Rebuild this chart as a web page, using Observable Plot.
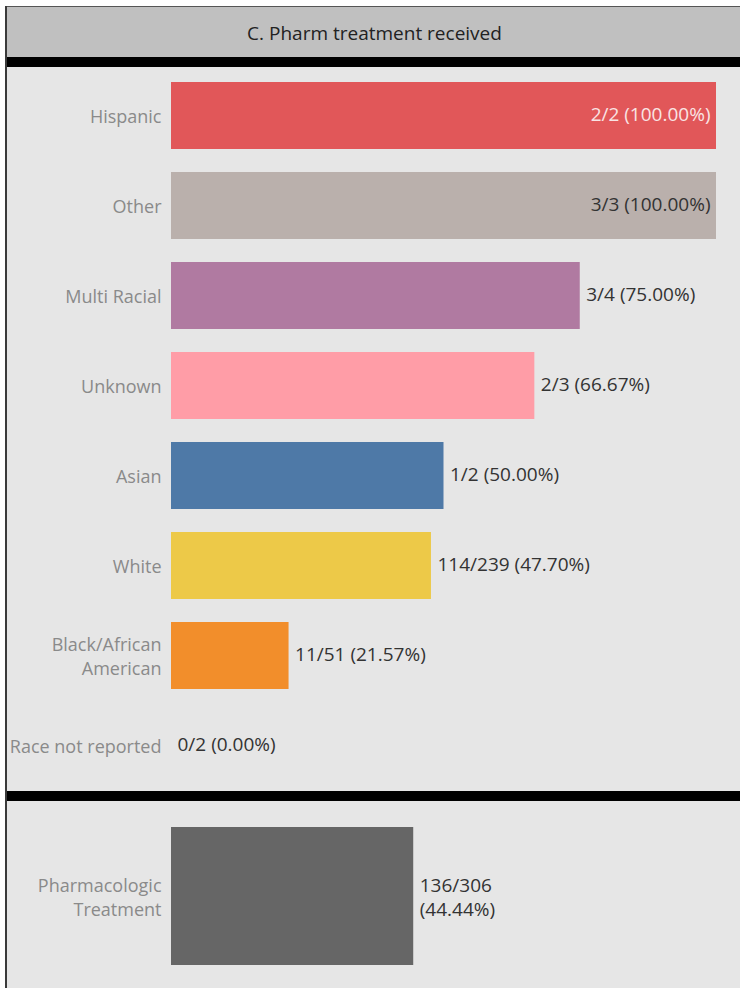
<!DOCTYPE html>
<html><head><meta charset="utf-8">
<script src="https://cdn.jsdelivr.net/npm/d3@7"></script>
<script src="https://cdn.jsdelivr.net/npm/@observablehq/plot@0.6"></script>
<style>
body{margin:0;background:#fff;font-family:"Open Sans",sans-serif;}
#wrap{position:absolute;left:5px;top:6px;width:735px;border-left:2px solid #3a3a3a;}
#hdr{height:51px;background:#c0c0c0;border-top:1px solid #555;box-sizing:border-box;display:flex;align-items:center;justify-content:center;font-size:19px;font-weight:500;color:#222;padding-top:2px;}
.sep{height:10px;background:#000;}
svg{display:block;}
</style></head>
<body>
<div id="wrap">
  <div id="hdr">C. Pharm treatment received</div>
  <div class="sep"></div>
  <div id="c1"></div>
  <div class="sep"></div>
  <div id="c2"></div>
</div>
<script>
const races = ["Hispanic","Other","Multi Racial","Unknown","Asian","White","Black/African\nAmerican","Race not reported"];
const treated = [2,3,3,2,1,114,11,0];
const totals = [2,3,4,3,2,239,51,2];
const colors = ["#e15759","#bab0ac","#b07aa1","#ff9da7","#4e79a7","#edc948","#f28e2b","#bbbbbb"];
const insideLabel = ["Hispanic","Other"];
const overallLabel = ["Pharmacologic\nTreatment"];
const overallTreated = [136];
const overallTotal = [306];

const rows = races.map((r,i)=>({race:r, n:treated[i], d:totals[i], pct:treated[i]/totals[i]*100}));
const lab = d => `${d.n}/${d.d} (${d.pct.toFixed(2)}%)`;

const W = 733;
const FS = 18;
const VS = 19;
const c1 = Plot.plot({
  width: W, height: 724,
  marginLeft: 164, marginRight: 24, marginTop: 14, marginBottom: 12,
  style: {background: "#e6e6e6", fontFamily: "Open Sans", fontSize: FS + "px", color: "#333"},
  x: {domain: [0,100], axis: null},
  y: {domain: races, paddingInner: 0.256, paddingOuter: 0, label: null},
  color: {domain: races, range: colors},
  marks: [
    Plot.ruleX([0], {stroke: "#fff", strokeWidth: 2, dx: -1, y1: -100, y2: 1000}),
    Plot.barX(rows, {x: "pct", y: "race", fill: "race"}),
    Plot.text(rows.filter(d=>insideLabel.includes(d.race)), {x: "pct", y: "race", text: lab, textAnchor: "end", dx: -6, dy: -1, fontSize: VS,
      fill: d => d.race === "Hispanic" ? "#f9e4e4" : "#333"}),
    Plot.text(rows.filter(d=>!insideLabel.includes(d.race)), {x: "pct", y: "race", text: lab, textAnchor: "start", dx: 6, dy: -1, fontSize: VS, fill: "#333"}),
    Plot.axisY({tickSize: 0, tickPadding: 10, dy: -1, fontSize: FS, color: "#8a8a8a", lineHeight: 1.33, label: null})
  ]
});
document.getElementById("c1").appendChild(c1);

const over = overallLabel.map((r,i)=>({cat:r, n:overallTreated[i], d:overallTotal[i], pct:overallTreated[i]/overallTotal[i]*100}));
const c2 = Plot.plot({
  width: W, height: 187,
  marginLeft: 164, marginRight: 24, marginTop: 26, marginBottom: 23,
  style: {background: "#e6e6e6", fontFamily: "Open Sans", fontSize: FS + "px", color: "#333"},
  x: {domain: [0,100], axis: null},
  y: {domain: overallLabel, padding: 0, label: null},
  marks: [
    Plot.ruleX([0], {stroke: "#fff", strokeWidth: 2, dx: -1, y1: -100, y2: 1000}),
    Plot.barX(over, {x: "pct", y: "cat", fill: "#666666"}),
    Plot.text(over, {x: "pct", y: "cat", text: d => `${d.n}/${d.d}\n(${d.pct.toFixed(2)}%)`, textAnchor: "start", dx: 6, dy: 0, fontSize: VS, lineHeight: 1.25, fill: "#333"}),
    Plot.axisY({tickSize: 0, tickPadding: 10, dy: 0, fontSize: FS, color: "#8a8a8a", lineHeight: 1.3, label: null})
  ]
});
document.getElementById("c2").appendChild(c2);
</script>
</body></html>
